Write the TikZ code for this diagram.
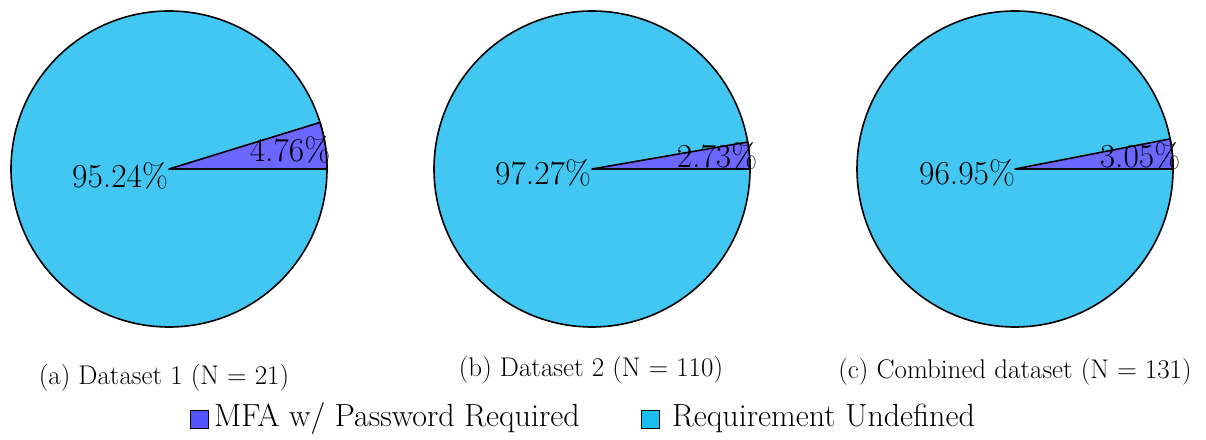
\documentclass[tikz,border=0pt]{standalone}
\usepackage{fontspec}
\begin{document}
\begin{tikzpicture}[x=1pt,y=1pt,
  piebig/.style={fill=pieblue,draw=black,line width=1.6pt},
  pieslice/.style={fill=piepurple,draw=black,line width=1.6pt,line join=round},
  pctlabel/.style={font=\fontsize{33.5}{38}\selectfont,inner sep=0pt},
  captext/.style={font=\fontsize{27}{32}\selectfont,inner sep=0pt},
  legtext/.style={font=\fontsize{32}{38}\selectfont,inner sep=0pt,anchor=west},
  legbox/.style={draw=black,line width=0.8pt,minimum size=18pt,inner sep=0pt}]
\definecolor{pieblue}{HTML}{42C6F2}
\definecolor{piepurple}{HTML}{6B66FF}
\definecolor{legpurple}{HTML}{5454FF}
\definecolor{legblue}{HTML}{1ABEF0}
\useasboundingbox (0,0) rectangle (1206,439);
% pie 1
\coordinate (c1) at (169,270);
\draw[piebig] (c1) circle (158);
\draw[pieslice] (c1) -- ++(0:158) arc (0:17.14:158) -- cycle;
\node[pctlabel] (l1a) at (290,289) {4.76\%};
\node[pctlabel] (l1b) at (120,263) {95.24\%};
% pie 2
\coordinate (c2) at (592,270);
\draw[piebig] (c2) circle (158);
\draw[pieslice] (c2) -- ++(0:158) arc (0:9.83:158) -- cycle;
\node[pctlabel] (l2a) at (717,283) {2.73\%};
\node[pctlabel] (l2b) at (543,266) {97.27\%};
% pie 3
\coordinate (c3) at (1015,270);
\draw[piebig] (c3) circle (158);
\draw[pieslice] (c3) -- ++(0:158) arc (0:10.98:158) -- cycle;
\node[pctlabel] (l3a) at (1140,283) {3.05\%};
\node[pctlabel] (l3b) at (967,266) {96.95\%};
% captions
\node[captext] (cap1) at (164,61) {(a) Dataset 1 (N = 21)};
\node[captext] (cap2) at (591,69) {(b) Dataset 2 (N = 110)};
\node[captext] (cap3) at (1015,67) {(c) Combined dataset (N = 131)};
% legend
\node[legbox,fill=legpurple] (lb1) at (199,20) {};
\node[legtext] (lt1) at (214,21) {MFA w/ Password Required};
\node[legbox,fill=legblue] (lb2) at (650,20) {};
\node[legtext] (lt2) at (672,21) {Requirement Undefined};
\end{tikzpicture}
\end{document}
